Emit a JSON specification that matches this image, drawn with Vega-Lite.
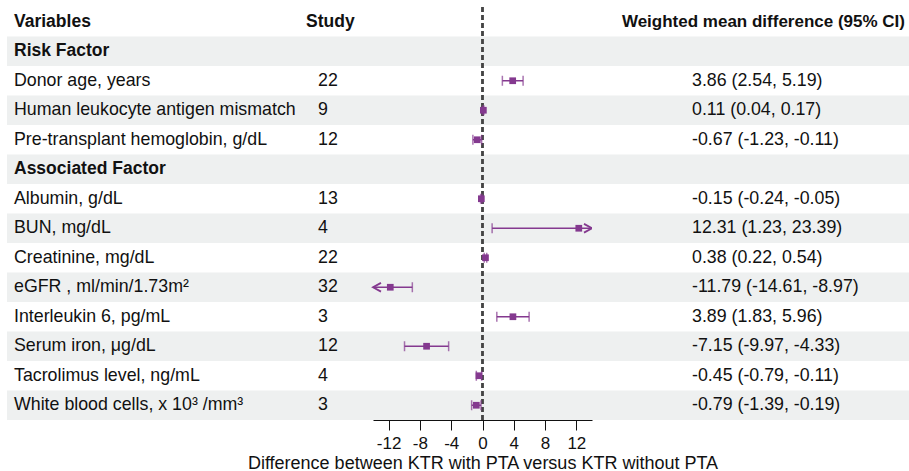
{
  "$schema": "https://vega.github.io/schema/vega-lite/v6.json",
  "padding": {"left": 7, "top": 6, "right": 0, "bottom": 0},
  "autosize": {"type": "pad"},
  "bounds": "flush",
  "spacing": 0,
  "config": {
    "view": {"stroke": null},
    "font": "Liberation Sans",
    "text": {"fontSize": 17.8, "color": "#111111"},
    "axis": {"labelOverlap": false}
  },
  "data": {
    "values": [
      {"label": "Variables", "type": "header", "study": "Study", "ci": "Weighted mean difference (95% CI)"},
      {"label": "Risk Factor", "type": "section", "study": "", "ci": ""},
      {"label": "Donor age, years", "type": "item", "study": "22", "est": 3.86, "lo": 2.54, "hi": 5.19, "ci": "3.86 (2.54, 5.19)"},
      {"label": "Human leukocyte antigen mismatch", "type": "item", "study": "9", "est": 0.11, "lo": 0.04, "hi": 0.17, "ci": "0.11 (0.04, 0.17)"},
      {"label": "Pre-transplant hemoglobin, g/dL", "type": "item", "study": "12", "est": -0.67, "lo": -1.23, "hi": -0.11, "ci": "-0.67 (-1.23, -0.11)"},
      {"label": "Associated Factor", "type": "section", "study": "", "ci": ""},
      {"label": "Albumin, g/dL", "type": "item", "study": "13", "est": -0.15, "lo": -0.24, "hi": -0.05, "ci": "-0.15 (-0.24, -0.05)"},
      {"label": "BUN, mg/dL", "type": "item", "study": "4", "est": 12.31, "lo": 1.23, "hi": 23.39, "ci": "12.31 (1.23, 23.39)"},
      {"label": "Creatinine, mg/dL", "type": "item", "study": "22", "est": 0.38, "lo": 0.22, "hi": 0.54, "ci": "0.38 (0.22, 0.54)"},
      {"label": "eGFR , ml/min/1.73m²", "type": "item", "study": "32", "est": -11.79, "lo": -14.61, "hi": -8.97, "ci": "-11.79 (-14.61, -8.97)"},
      {"label": "Interleukin 6, pg/mL", "type": "item", "study": "3", "est": 3.89, "lo": 1.83, "hi": 5.96, "ci": "3.89 (1.83, 5.96)"},
      {"label": "Serum iron, μg/dL", "type": "item", "study": "12", "est": -7.15, "lo": -9.97, "hi": -4.33, "ci": "-7.15 (-9.97, -4.33)"},
      {"label": "Tacrolimus level, ng/mL", "type": "item", "study": "4", "est": -0.45, "lo": -0.79, "hi": -0.11, "ci": "-0.45 (-0.79, -0.11)"},
      {"label": "White blood cells, x 10³ /mm³", "type": "item", "study": "3", "est": -0.79, "lo": -1.39, "hi": -0.19, "ci": "-0.79 (-1.39, -0.19)"}
    ]
  },
  "hconcat": [
    {
      "width": 366,
      "height": 413,
      "encoding": {
        "y": {"field": "label", "type": "nominal", "axis": null,
          "scale": {"domain": ["Variables", "Risk Factor", "Donor age, years", "Human leukocyte antigen mismatch", "Pre-transplant hemoglobin, g/dL", "Associated Factor", "Albumin, g/dL", "BUN, mg/dL", "Creatinine, mg/dL", "eGFR , ml/min/1.73m²", "Interleukin 6, pg/mL", "Serum iron, μg/dL", "Tacrolimus level, ng/mL", "White blood cells, x 10³ /mm³"], "paddingInner": 0, "paddingOuter": 0}}
      },
      "layer": [
        {
          "transform": [{"window": [{"op": "row_number", "as": "rn"}]}, {"filter": "datum.rn % 2 == 0"}],
          "mark": {"type": "rect", "color": "#eef0f0"}
        },
        {
          "transform": [{"filter": "datum.type == 'item'"}],
          "mark": {"type": "text", "align": "left", "baseline": "middle"},
          "encoding": {
            "x": {"datum": "Variables", "type": "nominal", "scale": {"type": "point", "domain": ["Variables", "Study"], "range": [7, 311], "padding": 0}, "axis": null},
            "text": {"field": "label"}
          }
        },
        {
          "transform": [{"filter": "datum.type != 'item'"}],
          "mark": {"type": "text", "align": "left", "baseline": "middle", "fontWeight": "bold", "fontSize": 17.5},
          "encoding": {
            "x": {"datum": "Variables", "type": "nominal"},
            "text": {"field": "label"}
          }
        },
        {
          "transform": [{"filter": "datum.type == 'item'"}],
          "mark": {"type": "text", "align": "left", "baseline": "middle"},
          "encoding": {
            "x": {"datum": "Study", "type": "nominal"},
            "text": {"field": "study"}
          }
        },
        {
          "transform": [{"filter": "datum.type == 'header'"}],
          "mark": {"type": "text", "align": "left", "baseline": "middle", "fontWeight": "bold", "fontSize": 17.5, "dx": -12},
          "encoding": {
            "x": {"datum": "Study", "type": "nominal"},
            "text": {"field": "study"}
          }
        }
      ]
    },
    {
      "width": 219,
      "height": 413,
      "encoding": {
        "y": {"field": "label", "type": "nominal", "axis": null,
          "scale": {"domain": ["Variables", "Risk Factor", "Donor age, years", "Human leukocyte antigen mismatch", "Pre-transplant hemoglobin, g/dL", "Associated Factor", "Albumin, g/dL", "BUN, mg/dL", "Creatinine, mg/dL", "eGFR , ml/min/1.73m²", "Interleukin 6, pg/mL", "Serum iron, μg/dL", "Tacrolimus level, ng/mL", "White blood cells, x 10³ /mm³"], "paddingInner": 0, "paddingOuter": 0}}
      },
      "layer": [
        {
          "transform": [{"window": [{"op": "row_number", "as": "rn"}]}, {"filter": "datum.rn % 2 == 0"}],
          "mark": {"type": "rect", "color": "#eef0f0"}
        },
        {
          "mark": {"type": "rule", "strokeDash": [5, 3], "color": "#444444", "strokeWidth": 1.3},
          "encoding": {
            "y": null,
            "x": {"datum": 0, "type": "quantitative", "scale": {"domain": [-14, 14], "clamp": true, "nice": false, "zero": false},
              "axis": {"values": [-12, -8, -4, 0, 4, 8, 12], "labelExpr": "'' + datum.value", "labelOverlap": false, "grid": false, "tickSize": 10, "domainColor": "#111111", "tickColor": "#111111", "labelColor": "#111111", "labelFontSize": 17, "labelFont": "Liberation Sans", "labelPadding": 5, "labelFlush": false, "title": "Difference between KTR with PTA versus KTR without PTA", "titleFontSize": 18, "titleFontWeight": "normal", "titleFont": "Liberation Sans", "titleColor": "#111111", "titlePadding": 3}}
          }
        },
        {
          "transform": [{"filter": "datum.type == 'item'"}],
          "mark": {"type": "rule", "color": "#84398f", "strokeWidth": 1.5},
          "encoding": {
            "x": {"field": "lo", "type": "quantitative", "axis": {"values": [-12, -8, -4, 0, 4, 8, 12], "labelOverlap": false}},
            "x2": {"field": "hi"}
          }
        },
        {
          "transform": [{"filter": "datum.type == 'item' && datum.lo >= -14"}],
          "mark": {"type": "tick", "color": "#84398f", "thickness": 1.5, "size": 10, "orient": "vertical"},
          "encoding": {
            "x": {"field": "lo", "type": "quantitative", "axis": {"values": [-12, -8, -4, 0, 4, 8, 12], "labelOverlap": false}}
          }
        },
        {
          "transform": [{"filter": "datum.type == 'item' && datum.hi <= 14"}],
          "mark": {"type": "tick", "color": "#84398f", "thickness": 1.5, "size": 10, "orient": "vertical"},
          "encoding": {
            "x": {"field": "hi", "type": "quantitative", "axis": {"values": [-12, -8, -4, 0, 4, 8, 12], "labelOverlap": false}}
          }
        },
        {
          "transform": [{"filter": "datum.type == 'item'"}],
          "mark": {"type": "point", "shape": "square", "filled": true, "color": "#84398f", "size": 45, "opacity": 1},
          "encoding": {
            "x": {"field": "est", "type": "quantitative", "axis": {"values": [-12, -8, -4, 0, 4, 8, 12], "labelOverlap": false}}
          }
        },
        {
          "transform": [{"filter": "datum.type == 'item' && datum.hi > 14"}],
          "mark": {"type": "point", "shape": "M -1 -0.55 L 0 0 L -1 0.55", "filled": false, "color": "#84398f", "strokeWidth": 1.8, "size": 256, "opacity": 1},
          "encoding": {
            "x": {"field": "hi", "type": "quantitative", "axis": {"values": [-12, -8, -4, 0, 4, 8, 12], "labelOverlap": false}}
          }
        },
        {
          "transform": [{"filter": "datum.type == 'item' && datum.lo < -14"}],
          "mark": {"type": "point", "shape": "M 1 -0.55 L 0 0 L 1 0.55", "filled": false, "color": "#84398f", "strokeWidth": 1.8, "size": 256, "opacity": 1},
          "encoding": {
            "x": {"field": "lo", "type": "quantitative", "axis": {"values": [-12, -8, -4, 0, 4, 8, 12], "labelOverlap": false}}
          }
        }
      ]
    },
    {
      "width": 317,
      "height": 413,
      "encoding": {
        "y": {"field": "label", "type": "nominal", "axis": null,
          "scale": {"domain": ["Variables", "Risk Factor", "Donor age, years", "Human leukocyte antigen mismatch", "Pre-transplant hemoglobin, g/dL", "Associated Factor", "Albumin, g/dL", "BUN, mg/dL", "Creatinine, mg/dL", "eGFR , ml/min/1.73m²", "Interleukin 6, pg/mL", "Serum iron, μg/dL", "Tacrolimus level, ng/mL", "White blood cells, x 10³ /mm³"], "paddingInner": 0, "paddingOuter": 0}}
      },
      "layer": [
        {
          "transform": [{"window": [{"op": "row_number", "as": "rn"}]}, {"filter": "datum.rn % 2 == 0"}],
          "mark": {"type": "rect", "color": "#eef0f0"}
        },
        {
          "transform": [{"filter": "datum.type == 'item'"}],
          "mark": {"type": "text", "align": "left", "baseline": "middle"},
          "encoding": {
            "x": {"datum": "ci", "type": "nominal", "scale": {"type": "point", "domain": ["ci", "head"], "range": [100, 313], "padding": 0}, "axis": null},
            "text": {"field": "ci"}
          }
        },
        {
          "transform": [{"filter": "datum.type == 'header'"}],
          "mark": {"type": "text", "align": "right", "baseline": "middle", "fontWeight": "bold", "fontSize": 17},
          "encoding": {
            "x": {"datum": "head", "type": "nominal"},
            "text": {"field": "ci"}
          }
        }
      ]
    }
  ]
}
